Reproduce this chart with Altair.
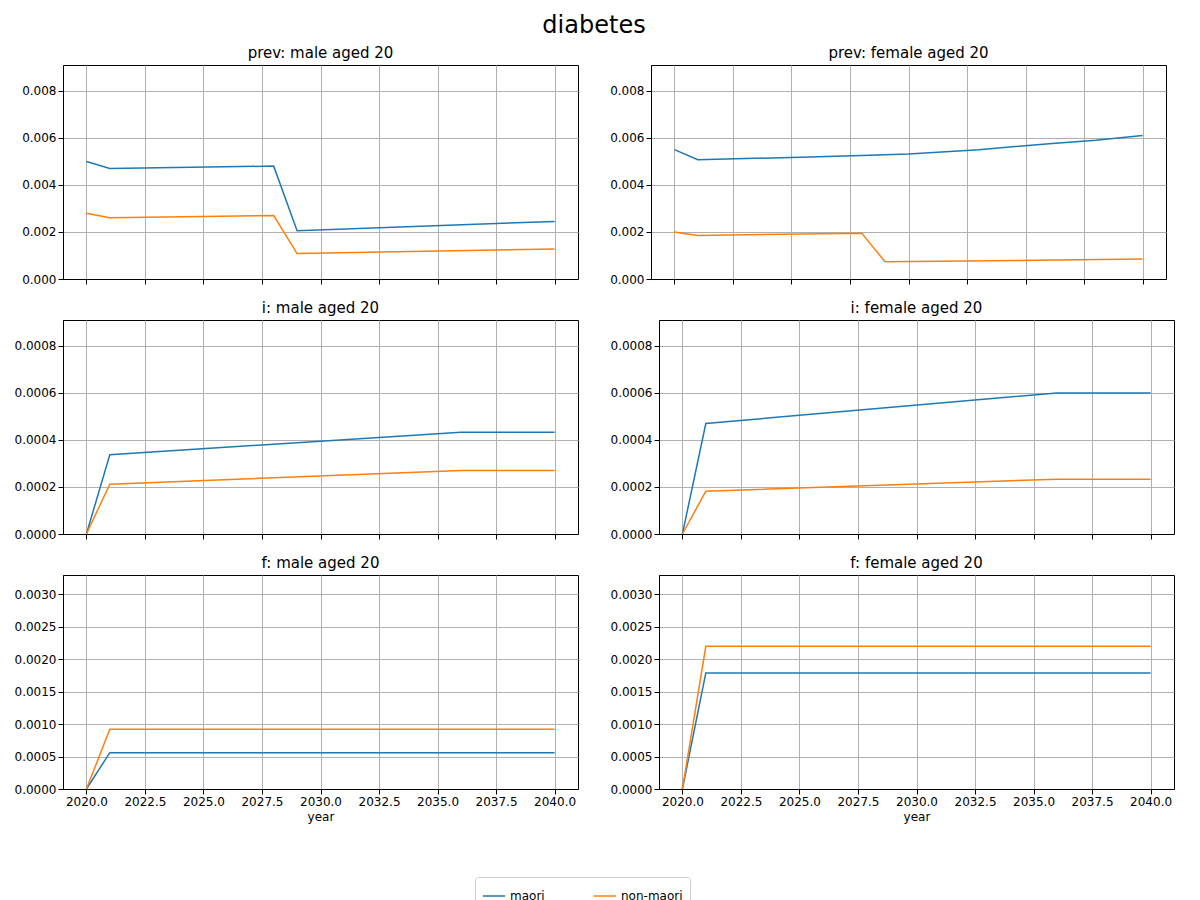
import altair as alt
import pandas as pd

# breakpoints of each series (lines are straight between them)
prev_m_years = [2020, 2021, 2028, 2029, 2040]
prev_m_maori = [0.0050, 0.0047, 0.0048, 0.00205, 0.00245]
prev_m_non = [0.0028, 0.0026, 0.0027, 0.00108, 0.00128]

prev_f_years_maori = [2020, 2021, 2025, 2028, 2030, 2033, 2036, 2038, 2040]
prev_f_maori = [0.0055, 0.00507, 0.00517, 0.00525, 0.00532, 0.0055, 0.00575, 0.0059, 0.0061]
prev_f_years_non = [2020, 2021, 2028, 2029, 2040]
prev_f_non = [0.0020, 0.00185, 0.00195, 0.00073, 0.00085]

i_years = [2020, 2021, 2036, 2040]
i_m_maori = [0.0, 0.000337, 0.000433, 0.000433]
i_m_non = [0.0, 0.000212, 0.00027, 0.00027]
i_f_maori = [0.0, 0.00047, 0.0006, 0.0006]
i_f_non = [0.0, 0.000182, 0.000233, 0.000233]

f_years = [2020, 2021, 2040]
f_m_maori = [0.0, 0.00056, 0.00056]
f_m_non = [0.0, 0.00092, 0.00092]
f_f_maori = [0.0, 0.00179, 0.00179]
f_f_non = [0.0, 0.0022, 0.0022]

def frame(years_a, maori, years_b, non):
    rows = [{"year": y, "value": v, "series": "maori"} for y, v in zip(years_a, maori)]
    rows += [{"year": y, "value": v, "series": "non-maori"} for y, v in zip(years_b, non)]
    return pd.DataFrame(rows)

color = alt.Color("series:N", scale=alt.Scale(domain=["maori", "non-maori"], range=["#1f77b4", "#ff7f0e"]),
                  legend=alt.Legend(title=None, orient="none", legendX=412, legendY=812, direction="horizontal",
                                    symbolType="stroke", symbolStrokeWidth=1.5, symbolSize=500, labelFontSize=12,
                                    strokeColor="#cccccc", padding=7, cornerRadius=3, columnPadding=45))

def panel(df, title, ymax, ystep, yfmt, bottom):
    xaxis = alt.Axis(values=[2020 + 2.5 * k for k in range(9)], format=".1f", labelFontSize=12,
                     title="year" if bottom else None, titleFontWeight="normal", titleFontSize=12,
                     labels=bottom, gridColor="#b0b0b0", domainColor="black", tickColor="black")
    yaxis = alt.Axis(values=[ystep * k for k in range(int(round(ymax / ystep)) + 1) if ystep * k <= ymax + 1e-12],
                     format=yfmt, title=None, labelFontSize=12, gridColor="#b0b0b0",
                     domainColor="black", tickColor="black")
    return alt.Chart(df).mark_line(strokeWidth=1.5).encode(
        x=alt.X("year:Q", scale=alt.Scale(domain=[2019, 2041], nice=False), axis=xaxis),
        y=alt.Y("value:Q", scale=alt.Scale(domain=[0, ymax], nice=False), axis=yaxis),
        color=color,
    ).properties(width=515, height=214,
                 title=alt.TitleParams(title, fontSize=15, fontWeight="normal", font="DejaVu Sans"))

row1 = alt.hconcat(
    panel(frame(prev_m_years, prev_m_maori, prev_m_years, prev_m_non), "prev: male aged 20", 0.0091, 0.002, ".3f", False),
    panel(frame(prev_f_years_maori, prev_f_maori, prev_f_years_non, prev_f_non), "prev: female aged 20", 0.0091, 0.002, ".3f", False),
    spacing=30)
row2 = alt.hconcat(
    panel(frame(i_years, i_m_maori, i_years, i_m_non), "i: male aged 20", 0.00091, 0.0002, ".4f", False),
    panel(frame(i_years, i_f_maori, i_years, i_f_non), "i: female aged 20", 0.00091, 0.0002, ".4f", False),
    spacing=30)
row3 = alt.hconcat(
    panel(frame(f_years, f_m_maori, f_years, f_m_non), "f: male aged 20", 0.0033, 0.0005, ".4f", True),
    panel(frame(f_years, f_f_maori, f_years, f_f_non), "f: female aged 20", 0.0033, 0.0005, ".4f", True),
    spacing=30)

chart = alt.vconcat(row1, row2, row3, spacing=14).properties(
    title=alt.TitleParams("diabetes", fontSize=24, fontWeight="normal", anchor="middle", font="DejaVu Sans", offset=8)
).configure(font="DejaVu Sans").configure_view(stroke="black").configure_axis(labelFont="DejaVu Sans")

chart.save("out.html", embed_options={"renderer": "svg", "actions": False})
